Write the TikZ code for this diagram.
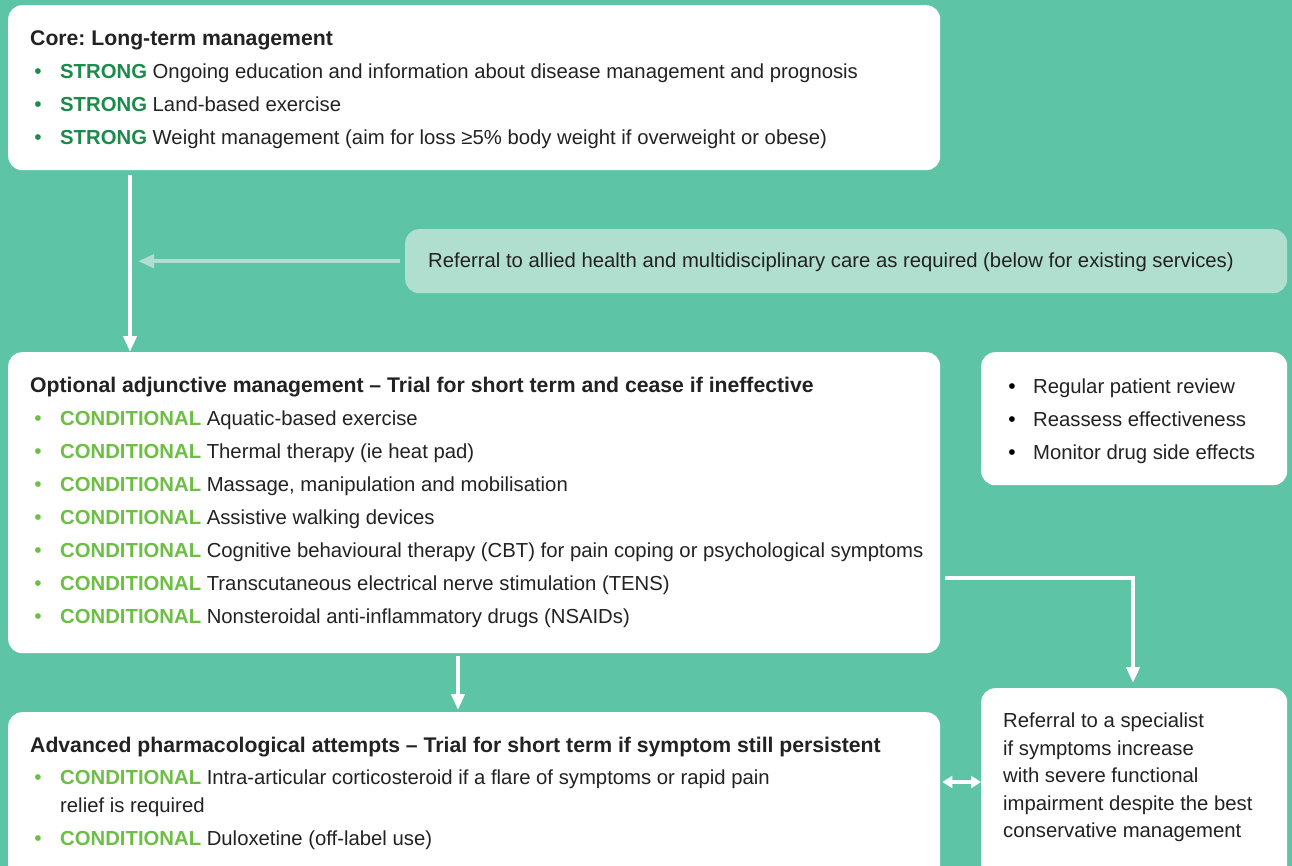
\documentclass[tikz,border=0pt]{standalone}
\usepackage{fontspec}
\setmainfont{Liberation Sans}
\usetikzlibrary{arrows.meta}
\definecolor{bg}{HTML}{5EC4A6}
\definecolor{refc}{HTML}{B0DFCF}
\definecolor{strongc}{HTML}{1B8A4A}
\definecolor{condc}{HTML}{6DBE45}
\definecolor{txt}{HTML}{222222}
\newcommand{\strongtag}{\textcolor{strongc}{\bfseries STRONG}}
\newcommand{\condtag}{\textcolor{condc}{\bfseries CONDITIONAL}}
\frenchspacing
\begin{document}
\begin{tikzpicture}[x=1pt,y=-1pt,
  box/.style={draw=none, fill=white, rounded corners=14pt, anchor=north west, inner sep=0pt},
  refbox/.style={draw=none, fill=refc, rounded corners=14pt, anchor=north west, inner sep=0pt},
  tl/.style={anchor=base west, inner sep=0pt, text=txt, font=\fontsize{20.3}{24}\selectfont},
  ttl/.style={tl, font=\fontsize{21.2}{24}\selectfont\bfseries},
  sbul/.style={anchor=base, inner sep=0pt, text=strongc, font=\fontsize{21}{24}\selectfont},
  cbul/.style={anchor=base, inner sep=0pt, text=condc, font=\fontsize{21}{24}\selectfont},
  kbul/.style={anchor=base, inner sep=0pt, text=black, font=\fontsize{21}{24}\selectfont},
  arr/.style={draw=white, line width=4pt, -{Triangle[length=16pt,width=13pt]}},
  refarr/.style={draw=refc, line width=4pt, -{Triangle[length=16pt,width=13pt]}},
  dblarr/.style={draw=white, line width=3.5pt, {Triangle[length=10pt,width=12pt]}-{Triangle[length=10pt,width=12pt]}}
]
\useasboundingbox (0,0) rectangle (1292,866);
\fill[bg] (0,0) rectangle (1292,866);
\begin{scope}
\clip (0,0) rectangle (1292,866);
% boxes
\node[box, minimum width=932pt, minimum height=165pt] (core) at (8,5) {};
\node[refbox, minimum width=882pt, minimum height=64pt] (ref) at (405,229) {};
\node[box, minimum width=932pt, minimum height=301pt] (opt) at (8,352) {};
\node[box, minimum width=306pt, minimum height=133pt] (rev) at (981,352) {};
\node[box, minimum width=932pt, minimum height=180pt] (adv) at (8,712) {};
\node[box, minimum width=306pt, minimum height=200pt] (spec) at (981,688) {};
\end{scope}

% core text
\node[ttl] (c0) at (30,46) {Core: Long-term management};
\node[sbul] (cb1) at (38,79) {•};
\node[tl] (c1) at (60,79) {\strongtag{} Ongoing education and information about disease management and prognosis};
\node[sbul] (cb2) at (38,112) {•};
\node[tl] (c2) at (60,112) {\strongtag{} Land-based exercise};
\node[sbul] (cb3) at (38,145) {•};
\node[tl] (c3) at (60,145) {\strongtag{} Weight management (aim for loss ≥5\% body weight if overweight or obese)};

% referral
\node[tl] (r0) at (428,268) {Referral to allied health and multidisciplinary care as required (below for existing services)};

% optional
\node[ttl] (o0) at (30,392) {Optional adjunctive management – Trial for short term and cease if ineffective};
\node[cbul] (ob1) at (38,425) {•};
\node[tl] (o1) at (60,425) {\condtag{} Aquatic-based exercise};
\node[cbul] (ob2) at (38,458) {•};
\node[tl] (o2) at (60,458) {\condtag{} Thermal therapy (ie heat pad)};
\node[cbul] (ob3) at (38,491) {•};
\node[tl] (o3) at (60,491) {\condtag{} Massage, manipulation and mobilisation};
\node[cbul] (ob4) at (38,524) {•};
\node[tl] (o4) at (60,524) {\condtag{} Assistive walking devices};
\node[cbul] (ob5) at (38,557) {•};
\node[tl] (o5) at (60,557) {\condtag{} Cognitive behavioural therapy (CBT) for pain coping or psychological symptoms};
\node[cbul] (ob6) at (38,590) {•};
\node[tl] (o6) at (60,590) {\condtag{} Transcutaneous electrical nerve stimulation (TENS)};
\node[cbul] (ob7) at (38,623) {•};
\node[tl] (o7) at (60,623) {\condtag{} Nonsteroidal anti-inflammatory drugs (NSAIDs)};

% review
\node[kbul] (vb1) at (1012,393) {•};
\node[tl] (v1) at (1033,393) {Regular patient review};
\node[kbul] (vb2) at (1012,426) {•};
\node[tl] (v2) at (1033,426) {Reassess effectiveness};
\node[kbul] (vb3) at (1012,459) {•};
\node[tl] (v3) at (1033,459) {Monitor drug side effects};

% advanced
\node[ttl] (a0) at (30,752) {Advanced pharmacological attempts – Trial for short term if symptom still persistent};
\node[cbul] (ab1) at (38,784) {•};
\node[tl] (a1) at (60,784) {\condtag{} Intra-articular corticosteroid if a flare of symptoms or rapid pain};
\node[tl] (a1b) at (60,812) {relief is required};
\node[cbul] (ab2) at (38,845) {•};
\node[tl] (a2) at (60,845) {\condtag{} Duloxetine (off-label use)};

% specialist
\node[tl] (s1) at (1003,727) {Referral to a specialist};
\node[tl] (s2) at (1003,755) {if symptoms increase};
\node[tl] (s3) at (1003,782) {with severe functional};
\node[tl] (s4) at (1003,810) {impairment despite the best};
\node[tl] (s5) at (1003,837) {conservative management};

% connectors
\coordinate (xa) at (130,0);
\coordinate (xr) at (138,0);
\coordinate (xb) at (458,0);
\coordinate (xs) at (1133,0);
\coordinate (ys) at (0,578);
\coordinate (yd) at (0,782);
\draw[arr, shorten <=5pt] (core.south -| xa) -- (opt.north -| xa);
\draw[refarr, shorten <=5pt] (ref.west) -- (ref.west -| xr);
\draw[arr, shorten <=3pt, shorten >=2pt] (opt.south -| xb) -- (adv.north -| xb);
\draw[arr, shorten >=5pt] ([xshift=5pt]opt.east |- ys) -| (spec.north -| xs);
\draw[dblarr, shorten <=2pt] (adv.east |- yd) -- (spec.west |- yd);
\end{tikzpicture}
\end{document}
